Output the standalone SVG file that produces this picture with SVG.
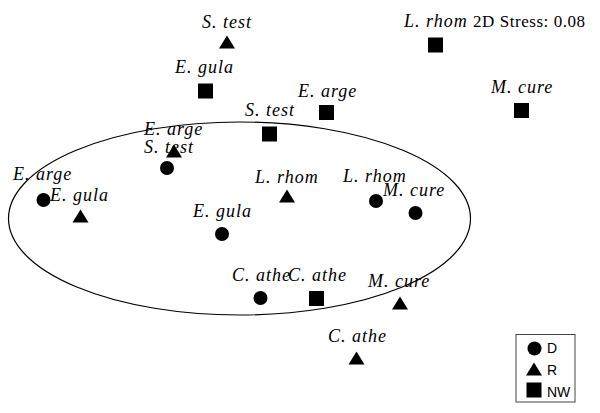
<svg xmlns="http://www.w3.org/2000/svg" xmlns:xlink="http://www.w3.org/1999/xlink" width="600" height="413" viewBox="0 0 600 413">
<style>
.lbl{font-family:"Liberation Serif","Times New Roman",serif;font-style:italic;font-size:18px;letter-spacing:1px;fill:#000}
.stress{font-family:"Liberation Serif","Times New Roman",serif;font-size:17px;fill:#000}
.leg{font-family:"Liberation Sans",Arial,sans-serif;font-size:14px;fill:#000}
.sym{fill:#000}
</style>
<defs>
<circle id="D" class="sym" cx="0" cy="0" r="7"/>
<polygon id="R" class="sym" points="0,-6.5 8,6.5 -8,6.5"/>
<rect id="NW" class="sym" x="-7.5" y="-7.5" width="15" height="15"/>
</defs>
<rect width="600" height="413" fill="#fff"/>
<g id="connectors">
<ellipse cx="239.5" cy="218.5" rx="231" ry="96.5" fill="none" stroke="#000" stroke-width="1.2"/>
</g>
<g id="stress"><text class="stress" x="473" y="27" textLength="112" lengthAdjust="spacing">2D Stress: 0.08</text></g>
<g id="n1"><text class="lbl" x="202" y="28">S. test</text><use xlink:href="#R" x="227" y="42"/></g>
<g id="n2"><text class="lbl" x="175" y="73">E. gula</text><use xlink:href="#NW" x="205.5" y="91"/></g>
<g id="n3"><text class="lbl" x="404" y="27">L. rhom</text><use xlink:href="#NW" x="435.5" y="45"/></g>
<g id="n4"><text class="lbl" x="298" y="97">E. arge</text><use xlink:href="#NW" x="326.5" y="112.5"/></g>
<g id="n5"><text class="lbl" x="491" y="93">M. cure</text><use xlink:href="#NW" x="521.5" y="110.5"/></g>
<g id="n6"><text class="lbl" x="245" y="116">S. test</text><use xlink:href="#NW" x="269.5" y="134"/></g>
<g id="n7"><text class="lbl" x="144" y="135">E. arge</text><use xlink:href="#R" x="174" y="151"/></g>
<g id="n8"><text class="lbl" x="144" y="153">S. test</text><use xlink:href="#D" x="167" y="168"/></g>
<g id="n9"><text class="lbl" x="13" y="180">E. arge</text><use xlink:href="#D" x="43.5" y="200"/></g>
<g id="n10"><text class="lbl" x="50" y="201">E. gula</text><use xlink:href="#R" x="80.5" y="216"/></g>
<g id="n11"><text class="lbl" x="255" y="183">L. rhom</text><use xlink:href="#R" x="287" y="196"/></g>
<g id="n12"><text class="lbl" x="343" y="182">L. rhom</text><use xlink:href="#D" x="376" y="201"/></g>
<g id="n13"><text class="lbl" x="383" y="196">M. cure</text><use xlink:href="#D" x="415.5" y="213"/></g>
<g id="n14"><text class="lbl" x="193" y="217">E. gula</text><use xlink:href="#D" x="222" y="234"/></g>
<g id="n15"><text class="lbl" x="232" y="281">C. athe</text><use xlink:href="#D" x="260.5" y="298"/></g>
<g id="n16"><text class="lbl" x="288" y="281">C. athe</text><use xlink:href="#NW" x="316.5" y="298.5"/></g>
<g id="n17"><text class="lbl" x="368" y="287">M. cure</text><use xlink:href="#R" x="400" y="303"/></g>
<g id="n18"><text class="lbl" x="328" y="342">C. athe</text><use xlink:href="#R" x="356.5" y="358"/></g>
<g id="legend">
<rect x="516" y="334.5" width="59" height="67.5" fill="#fff" stroke="#444" stroke-width="1"/>
<use xlink:href="#D" x="534.5" y="348.5"/>
<text class="leg" x="547" y="353">D</text>
<use xlink:href="#R" x="534" y="369"/>
<text class="leg" x="547" y="375">R</text>
<use xlink:href="#NW" x="534" y="390"/>
<text class="leg" x="547" y="397">NW</text>
</g>
</svg>
